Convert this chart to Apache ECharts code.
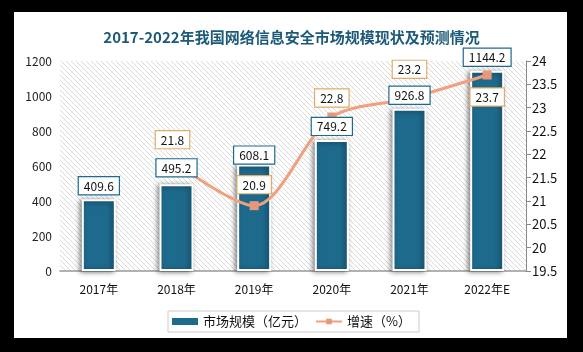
<!DOCTYPE html>
<html>
<head>
<meta charset="utf-8">
<title>ECharts</title>
<script src="https://cdn.jsdelivr.net/npm/echarts@6/dist/echarts.min.js"></script>
<style>
  html, body { margin: 0; padding: 0; background: #000; }
</style>
</head>
<body>
<div id="main" style="width:583px;height:352px;"></div>
<script type="text/javascript">

var years = ['2017年', '2018年', '2019年', '2020年', '2021年', '2022年E'];
var marketSize = [409.6, 495.2, 608.1, 749.2, 926.8, 1144.2];
var growth = ['-', 21.8, 20.9, 22.8, 23.2, 23.7];

var font = '"Noto Sans CJK SC", "DejaVu Sans", sans-serif';
var barColor = '#1e6a8d';
var lineColor = '#f0a07f';

// diagonal dotted hatch for the plot background
var hatch = document.createElement('canvas');
hatch.width = 5;
hatch.height = 5;
var hctx = hatch.getContext('2d');
hctx.fillStyle = '#fff';
hctx.fillRect(0, 0, 5, 5);
hctx.fillStyle = '#dadada';
for (var i = 0; i < 5; i++) {
    hctx.fillRect(i, i, 1, 1);
}

// label tweaks (the original chart nudges some labels)
var barLabelOffsets = [[0, 0], [0, -3], [0, 4], [0, 0], [0, 0], [0, 0]];
var lineLabelTweaks = [null, {offset: [-4, -3]}, {offset: [0, 0]}, {offset: [0, 2]}, {offset: [0, -8]}, {position: 'bottom', distance: 9}];

var boxLabel = {
    show: true,
    position: 'top',
    fontFamily: font,
    fontSize: 12,
    color: '#111',
    backgroundColor: '#fff',
    borderWidth: 1.2,
    padding: [3, 5, 2, 5]
};

var myChart = echarts.init(document.getElementById('main'));

var option = {
    backgroundColor: '#000',
    animation: false,
    graphic: [{
        type: 'rect',
        z: -10,
        shape: {x: 14, y: 12, width: 553, height: 326},
        style: {fill: '#fff'}
    }],
    title: {
        text: '2017-2022年我国网络信息安全市场规模现状及预测情况',
        left: 'center',
        top: 25,
        textStyle: {fontFamily: font, fontSize: 15, fontWeight: 'bold', color: '#1b5a78'}
    },
    legend: {
        bottom: 20,
        left: 'center',
        borderColor: '#cccccc',
        borderWidth: 1,
        borderRadius: 0,
        padding: [4, 8, 4, 4],
        itemGap: 8,
        textStyle: {fontFamily: font, fontSize: 13, color: '#111'},
        data: [
            {name: '市场规模（亿元）', icon: 'rect', itemStyle: {borderWidth: 0, shadowBlur: 0}},
            {name: '增速（%）'}
        ],
        itemWidth: 26,
        itemHeight: 7
    },
    grid: {left: 60, right: 57, top: 61, bottom: 81, show: true, borderWidth: 0,
        backgroundColor: {image: hatch, repeat: 'repeat'}},
    xAxis: {
        type: 'category',
        data: years,
        axisLine: {lineStyle: {color: '#999', width: 1.5}},
        axisTick: {show: false},
        axisLabel: {fontFamily: font, fontSize: 12, color: '#111', margin: 12}
    },
    yAxis: [{
        type: 'value',
        min: 0, max: 1200, interval: 200,
        axisLine: {show: false},
        axisTick: {show: false},
        splitLine: {show: false},
        axisLabel: {fontFamily: font, fontSize: 12, color: '#222', margin: 8,
            formatter: function (v) { return String(v); }}
    }, {
        type: 'value',
        min: 19.5, max: 24, interval: 0.5,
        position: 'right',
        axisLine: {show: true, lineStyle: {color: '#888'}},
        axisTick: {show: true, length: 5, lineStyle: {color: '#888'}},
        splitLine: {show: false},
        axisLabel: {fontFamily: font, fontSize: 13, color: '#111', margin: 6}
    }],
    series: [{
        name: '市场规模（亿元）',
        type: 'bar',
        barWidth: 34,
        z: 2,
        itemStyle: {
            color: barColor,
            borderColor: '#fff',
            borderWidth: 2,
            shadowColor: 'rgba(0,0,0,0.5)',
            shadowBlur: 5,
            shadowOffsetX: -2,
            shadowOffsetY: 1
        },
        data: marketSize
    }, {
        name: '增速（%）',
        type: 'line',
        yAxisIndex: 1,
        z: 3,
        smooth: 0.3,
        symbol: 'rect',
        symbolSize: 9,
        lineStyle: {color: lineColor, width: 3},
        itemStyle: {color: '#e8987a'},
        label: echarts.util.merge({distance: 8, borderColor: '#e0ac68'}, boxLabel),
        data: growth.map(function (v, i) {
            var d = {value: v};
            if (lineLabelTweaks[i]) d.label = lineLabelTweaks[i];
            return d;
        })
    }, {
        // transparent copy of the bars that carries the value labels above the line
        name: 'barLabels',
        type: 'bar',
        barWidth: 34,
        barGap: '-100%',
        z: 4,
        silent: true,
        itemStyle: {color: 'rgba(0,0,0,0)'},
        label: echarts.util.merge({distance: 5, borderColor: barColor}, boxLabel),
        data: marketSize.map(function (v, i) {
            return {value: v, label: {offset: barLabelOffsets[i]}};
        })
    }]
};

myChart.setOption(option);
</script>
</body>
</html>
